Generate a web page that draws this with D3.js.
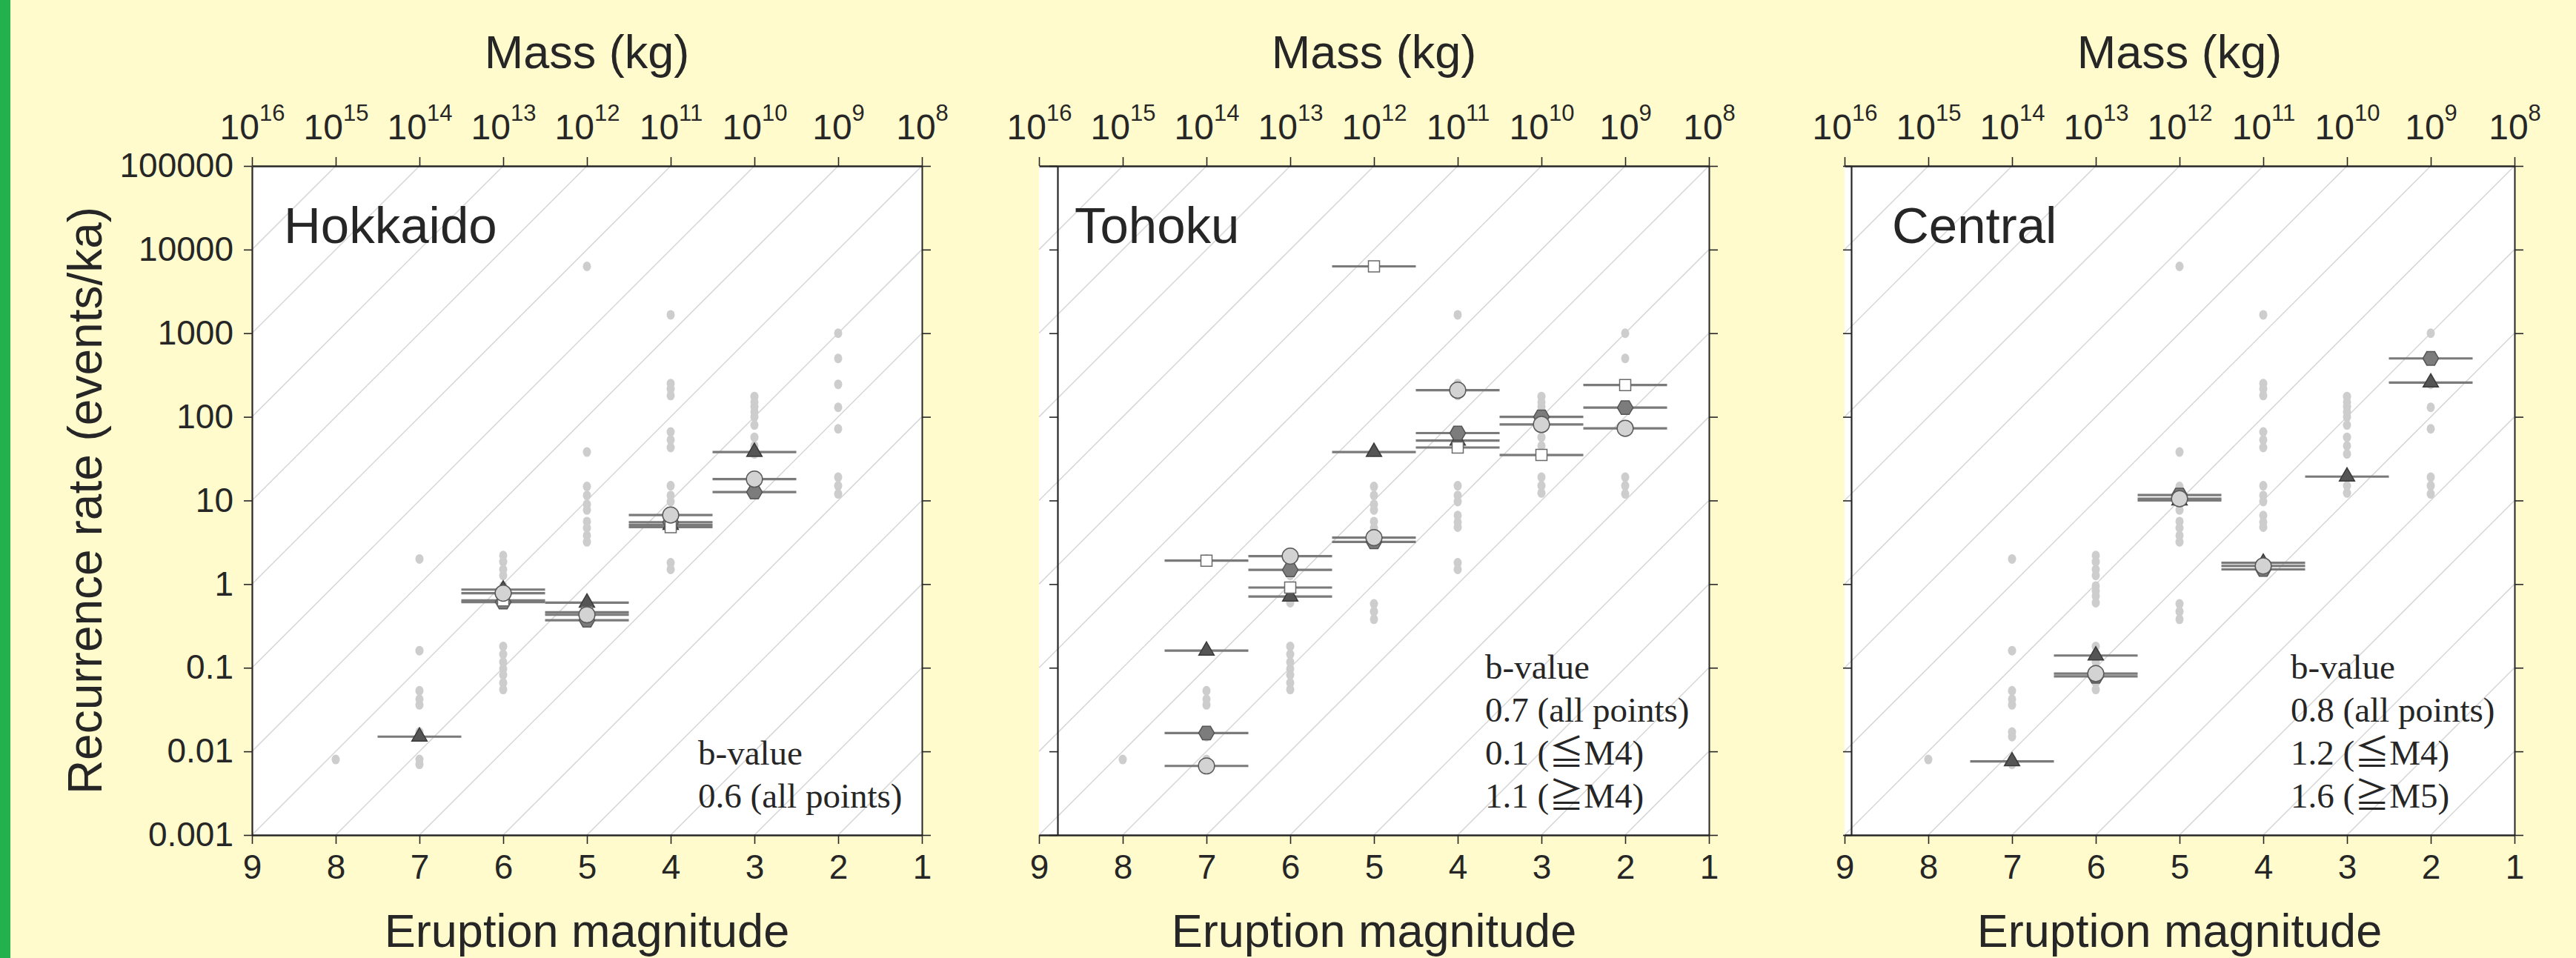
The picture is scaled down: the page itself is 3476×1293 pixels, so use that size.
<!DOCTYPE html>
<html>
<head>
<meta charset="utf-8">
<script src="https://cdn.jsdelivr.net/npm/d3@7"></script>
<style>
  body { margin: 0; background: #fffbcc; }
  svg { display: block; }
</style>
</head>
<body>
<script>
// ticks shared by the three panels
var magnitudes = [9, 8, 7, 6, 5, 4, 3, 2, 1];
var massExponents = [16, 15, 14, 13, 12, 11, 10, 9, 8];
var rateTicks = [100000, 10000, 1000, 100, 10, 1, 0.1, 0.01, 0.001];
var rateLabels = ["100000", "10000", "1000", "100", "10", "1", "0.1", "0.01", "0.001"];
// constant mass-flux guide lines, offset in decades
var guideOffsets = [-8, -7, -6, -5, -4, -3, -2, -1, 0, 1, 2, 3, 4, 5, 6, 7, 8];

var regions = ["Hokkaido", "Tohoku", "Central"];
var bValueNotes = [
    ["b-value", "0.6 (all points)"],
    ["b-value", "0.7 (all points)", "0.1 (\u2266M4)", "1.1 (\u2267M4)"],
    ["b-value", "0.8 (all points)", "1.2 (\u2266M4)", "1.6 (\u2267M5)"]
];

// individual volcanoes [magnitude, rate], grey dots, same in all panels
var volcanoDots = [
    [8, 0.008],
    [7, 2.0], [7, 0.16], [7, 0.053], [7, 0.042], [7, 0.036], [7, 0.017], [7, 0.015], [7, 0.008], [7, 0.007],
    [6, 2.2], [6, 1.85], [6, 1.5], [6, 1.27], [6, 0.95], [6, 0.83], [6, 0.72], [6, 0.6],
    [6, 0.18], [6, 0.145], [6, 0.117], [6, 0.097], [6, 0.082], [6, 0.066], [6, 0.055],
    [5, 6300], [5, 38], [5, 14.7], [5, 11.5], [5, 9], [5, 7.7], [5, 5.6], [5, 4.7], [5, 3.8], [5, 3.2],
    [5, 0.58], [5, 0.47], [5, 0.38],
    [4, 1660], [4, 250], [4, 215], [4, 180], [4, 66], [4, 53], [4, 43], [4, 15], [4, 11.5], [4, 9.7],
    [4, 6.6], [4, 5.5], [4, 4.8], [4, 1.8], [4, 1.5],
    [3, 175], [3, 150], [3, 132], [3, 115], [3, 100], [3, 80], [3, 57], [3, 45], [3, 36], [3, 19], [3, 15], [3, 12.3],
    [2, 1000], [2, 500], [2, 245], [2, 130], [2, 72], [2, 19], [2, 15], [2, 12]
];

// regional recurrence rates [magnitude, rate] per marker series
var hokkaidoTriangle = [[7, 0.015], [6, 0.86], [5, 0.6], [4, 5.1], [3, 38]];
var hokkaidoHexagon = [[6, 0.61], [5, 0.37], [4, 5.5], [3, 12.6]];
var hokkaidoSquare = [[6, 0.64], [5, 0.46], [4, 4.8]];
var hokkaidoCircle = [[6, 0.78], [5, 0.43], [4, 6.7], [3, 18]];

var tohokuTriangle = [[7, 0.16], [6, 0.71], [5, 38], [4, 52]];
var tohokuHexagon = [[7, 0.0166], [6, 1.48], [5, 3.2], [4, 64], [3, 100], [2, 129]];
var tohokuSquare = [[7, 1.91], [6, 0.91], [5, 6300], [4, 43], [3, 35], [2, 240]];
var tohokuCircle = [[7, 0.0067], [6, 2.16], [5, 3.6], [4, 208], [3, 81], [2, 73]];

var centralTriangle = [[7, 0.0076], [6, 0.14], [5, 10], [4, 1.8], [3, 19.3], [2, 257]];
var centralHexagon = [[6, 0.079], [5, 11.6], [4, 1.5], [2, 500]];
var centralSquare = [];
var centralCircle = [[6, 0.085], [5, 10.5], [4, 1.65]];

(function() {
    var w = 3476,
        h = 1293;
    var plotTop = 224,
        plotBottom = 1127,
        plotWidth = 904;
    var panelLeft = [340, 1402, 2489],
        yAxisShift = [0, 25, 9],
        nameShift = [43, 48, 64];
    var sans = "'Liberation Sans', Arial, Helvetica, sans-serif",
        serif = "'Liberation Serif', 'Times New Roman', 'Noto Sans CJK JP', serif";
    var ink = '#262626';

    var series = [
        [hokkaidoTriangle, hokkaidoHexagon, hokkaidoSquare, hokkaidoCircle],
        [tohokuTriangle, tohokuHexagon, tohokuSquare, tohokuCircle],
        [centralTriangle, centralHexagon, centralSquare, centralCircle]
    ];

    // flat-topped hexagon for d3.symbol
    var symbolHexagon = {
        draw: function(context, size) {
            var r = Math.sqrt(size / (1.5 * Math.sqrt(3)));
            for (var k = 0; k < 6; k++) {
                var a = Math.PI / 3 * k;
                if (k === 0) context.moveTo(r * Math.cos(a), r * Math.sin(a));
                else context.lineTo(r * Math.cos(a), r * Math.sin(a));
            }
            context.closePath();
        }
    };
    var markerStyle = [
        { type: d3.symbolTriangle, size: 185, fill: '#555555', stroke: '#3a3a3a' },
        { type: symbolHexagon, size: 290, fill: '#7c7c7c', stroke: '#555555' },
        { type: d3.symbolSquare, size: 225, fill: '#ffffff', stroke: '#6a6a6a' },
        { type: d3.symbolCircle, size: 370, fill: '#d3d3d3', stroke: '#5a5a5a' }
    ];

    var svg = d3.select('body')
        .append('svg')
        .attr('width', w)
        .attr('height', h);

    svg.append('rect')
        .attr('width', w)
        .attr('height', h)
        .attr('fill', '#fffbcc');
    svg.append('rect')
        .attr('width', 14)
        .attr('height', h)
        .attr('fill', '#22b14c');

    function styleAxis(g, width) {
        g.attr('font-family', sans)
            .attr('font-size', 46)
            .attr('fill', ink);
        g.selectAll('path.domain')
            .attr('stroke', ink)
            .attr('stroke-width', width);
        g.selectAll('.tick line')
            .attr('stroke', ink)
            .attr('stroke-width', 1.6);
        g.selectAll('.tick text')
            .attr('fill', ink);
    }

    function drawPanel(i) {
        var left = panelLeft[i];
        var x = d3.scaleLinear()
            .domain([9, 1])
            .range([left, left + plotWidth]);
        var massX = d3.scaleLog()
            .domain([1e16, 1e8])
            .range([left, left + plotWidth]);
        var y = d3.scaleLog()
            .domain([0.001, 100000])
            .range([plotBottom, plotTop]);

        var g = svg.append('g');

        g.append('rect')
            .attr('x', x(9))
            .attr('y', plotTop)
            .attr('width', x(1) - x(9))
            .attr('height', plotBottom - plotTop)
            .attr('fill', '#ffffff');

        g.append('clipPath')
            .attr('id', 'clip' + i)
            .append('rect')
            .attr('x', x(9))
            .attr('y', plotTop)
            .attr('width', x(1) - x(9))
            .attr('height', plotBottom - plotTop);

        // guide lines: rate x mass = const (one decade per magnitude)
        var line = d3.line()
            .x(function(d) { return x(d[0]); })
            .y(function(d) { return y(d[1]); });
        g.append('g')
            .attr('clip-path', 'url(#clip' + i + ')')
            .selectAll('path')
            .data(guideOffsets)
            .enter()
            .append('path')
            .attr('d', function(k) {
                return line([[9, Math.pow(10, k - 3)], [1, Math.pow(10, k + 5)]]);
            })
            .attr('fill', 'none')
            .attr('stroke', '#d6d6d6')
            .attr('stroke-width', 1.5);

        // grey volcano dots
        g.append('g')
            .selectAll('ellipse')
            .data(volcanoDots)
            .enter()
            .append('ellipse')
            .attr('cx', function(d) { return x(d[0]); })
            .attr('cy', function(d) { return y(d[1]); })
            .attr('rx', 5.5)
            .attr('ry', 6.5)
            .attr('fill', '#cdcdcd');

        // magnitude bin bars (+-0.5)
        var bars = g.append('g');
        series[i].forEach(function(s) {
            bars.selectAll(null)
                .data(s)
                .enter()
                .append('line')
                .attr('x1', function(d) { return x(d[0] + 0.5); })
                .attr('x2', function(d) { return x(d[0] - 0.5); })
                .attr('y1', function(d) { return y(d[1]); })
                .attr('y2', function(d) { return y(d[1]); })
                .attr('stroke', '#7a7a7a')
                .attr('stroke-width', 3.2);
        });

        var marks = g.append('g');
        series[i].forEach(function(s, j) {
            var st = markerStyle[j];
            marks.selectAll(null)
                .data(s)
                .enter()
                .append('path')
                .attr('transform', function(d) { return 'translate(' + x(d[0]) + ',' + y(d[1]) + ')'; })
                .attr('d', d3.symbol().type(st.type).size(st.size))
                .attr('fill', st.fill)
                .attr('stroke', st.stroke)
                .attr('stroke-width', 1.5);
        });

        // frame and axes
        var top = g.append('g')
            .attr('transform', 'translate(0,' + plotTop + ')')
            .call(d3.axisTop(massX)
                .tickValues(massExponents.map(function(e) { return Math.pow(10, e); }))
                .tickSize(12)
                .tickSizeOuter(0)
                .tickPadding(24)
                .tickFormat(function() { return '10'; }));
        styleAxis(top, 2.6);
        top.selectAll('.tick text')
            .attr('font-size', 48)
            .each(function(d) {
                d3.select(this)
                    .append('tspan')
                    .attr('dy', -25)
                    .attr('font-size', 31)
                    .text(Math.round(Math.log10(d)));
            });

        var bottom = g.append('g')
            .attr('transform', 'translate(0,' + plotBottom + ')')
            .call(d3.axisBottom(x)
                .tickValues(magnitudes)
                .tickSize(12)
                .tickSizeOuter(0)
                .tickPadding(14)
                .tickFormat(d3.format('d')));
        styleAxis(bottom, 2.6);

        var leftAxis = g.append('g')
            .attr('transform', 'translate(' + (x(9) + yAxisShift[i]) + ',0)')
            .call(d3.axisLeft(y)
                .tickValues(rateTicks)
                .tickSize(11)
                .tickSizeOuter(0)
                .tickPadding(14)
                .tickFormat(function(d, k) { return i === 0 ? rateLabels[k] : ''; }));
        styleAxis(leftAxis, 2.2);

        var rightAxis = g.append('g')
            .attr('transform', 'translate(' + x(1) + ',0)')
            .call(d3.axisRight(y)
                .tickValues(rateTicks)
                .tickSize(12)
                .tickSizeOuter(0)
                .tickFormat(''));
        styleAxis(rightAxis, 2);

        // titles
        var cx = (x(9) + x(1)) / 2;
        g.append('text')
            .attr('x', cx)
            .attr('y', 92)
            .attr('text-anchor', 'middle')
            .attr('font-family', sans)
            .attr('font-size', 63)
            .attr('fill', ink)
            .text('Mass (kg)');
        g.append('text')
            .attr('x', cx)
            .attr('y', 1278)
            .attr('text-anchor', 'middle')
            .attr('font-family', sans)
            .attr('font-size', 63)
            .attr('fill', ink)
            .text('Eruption magnitude');
        g.append('text')
            .attr('x', left + nameShift[i])
            .attr('y', 328)
            .attr('font-family', sans)
            .attr('font-size', 69)
            .attr('fill', ink)
            .text(regions[i]);

        var notes = bValueNotes[i];
        g.append('g')
            .selectAll('text')
            .data(notes)
            .enter()
            .append('text')
            .attr('x', left + 602)
            .attr('y', function(d, k) { return 1090 - (notes.length - 1 - k) * 58; })
            .attr('font-family', serif)
            .attr('font-size', 47)
            .attr('fill', ink)
            .text(function(d) { return d; });
    }

    regions.forEach(function(r, i) { drawPanel(i); });

    svg.append('text')
        .attr('transform', 'translate(137,' + ((plotTop + plotBottom) / 2) + ') rotate(-90)')
        .attr('text-anchor', 'middle')
        .attr('font-family', sans)
        .attr('font-size', 64)
        .attr('fill', ink)
        .text('Recurrence rate (events/ka)');
})();
</script>
</body>
</html>
